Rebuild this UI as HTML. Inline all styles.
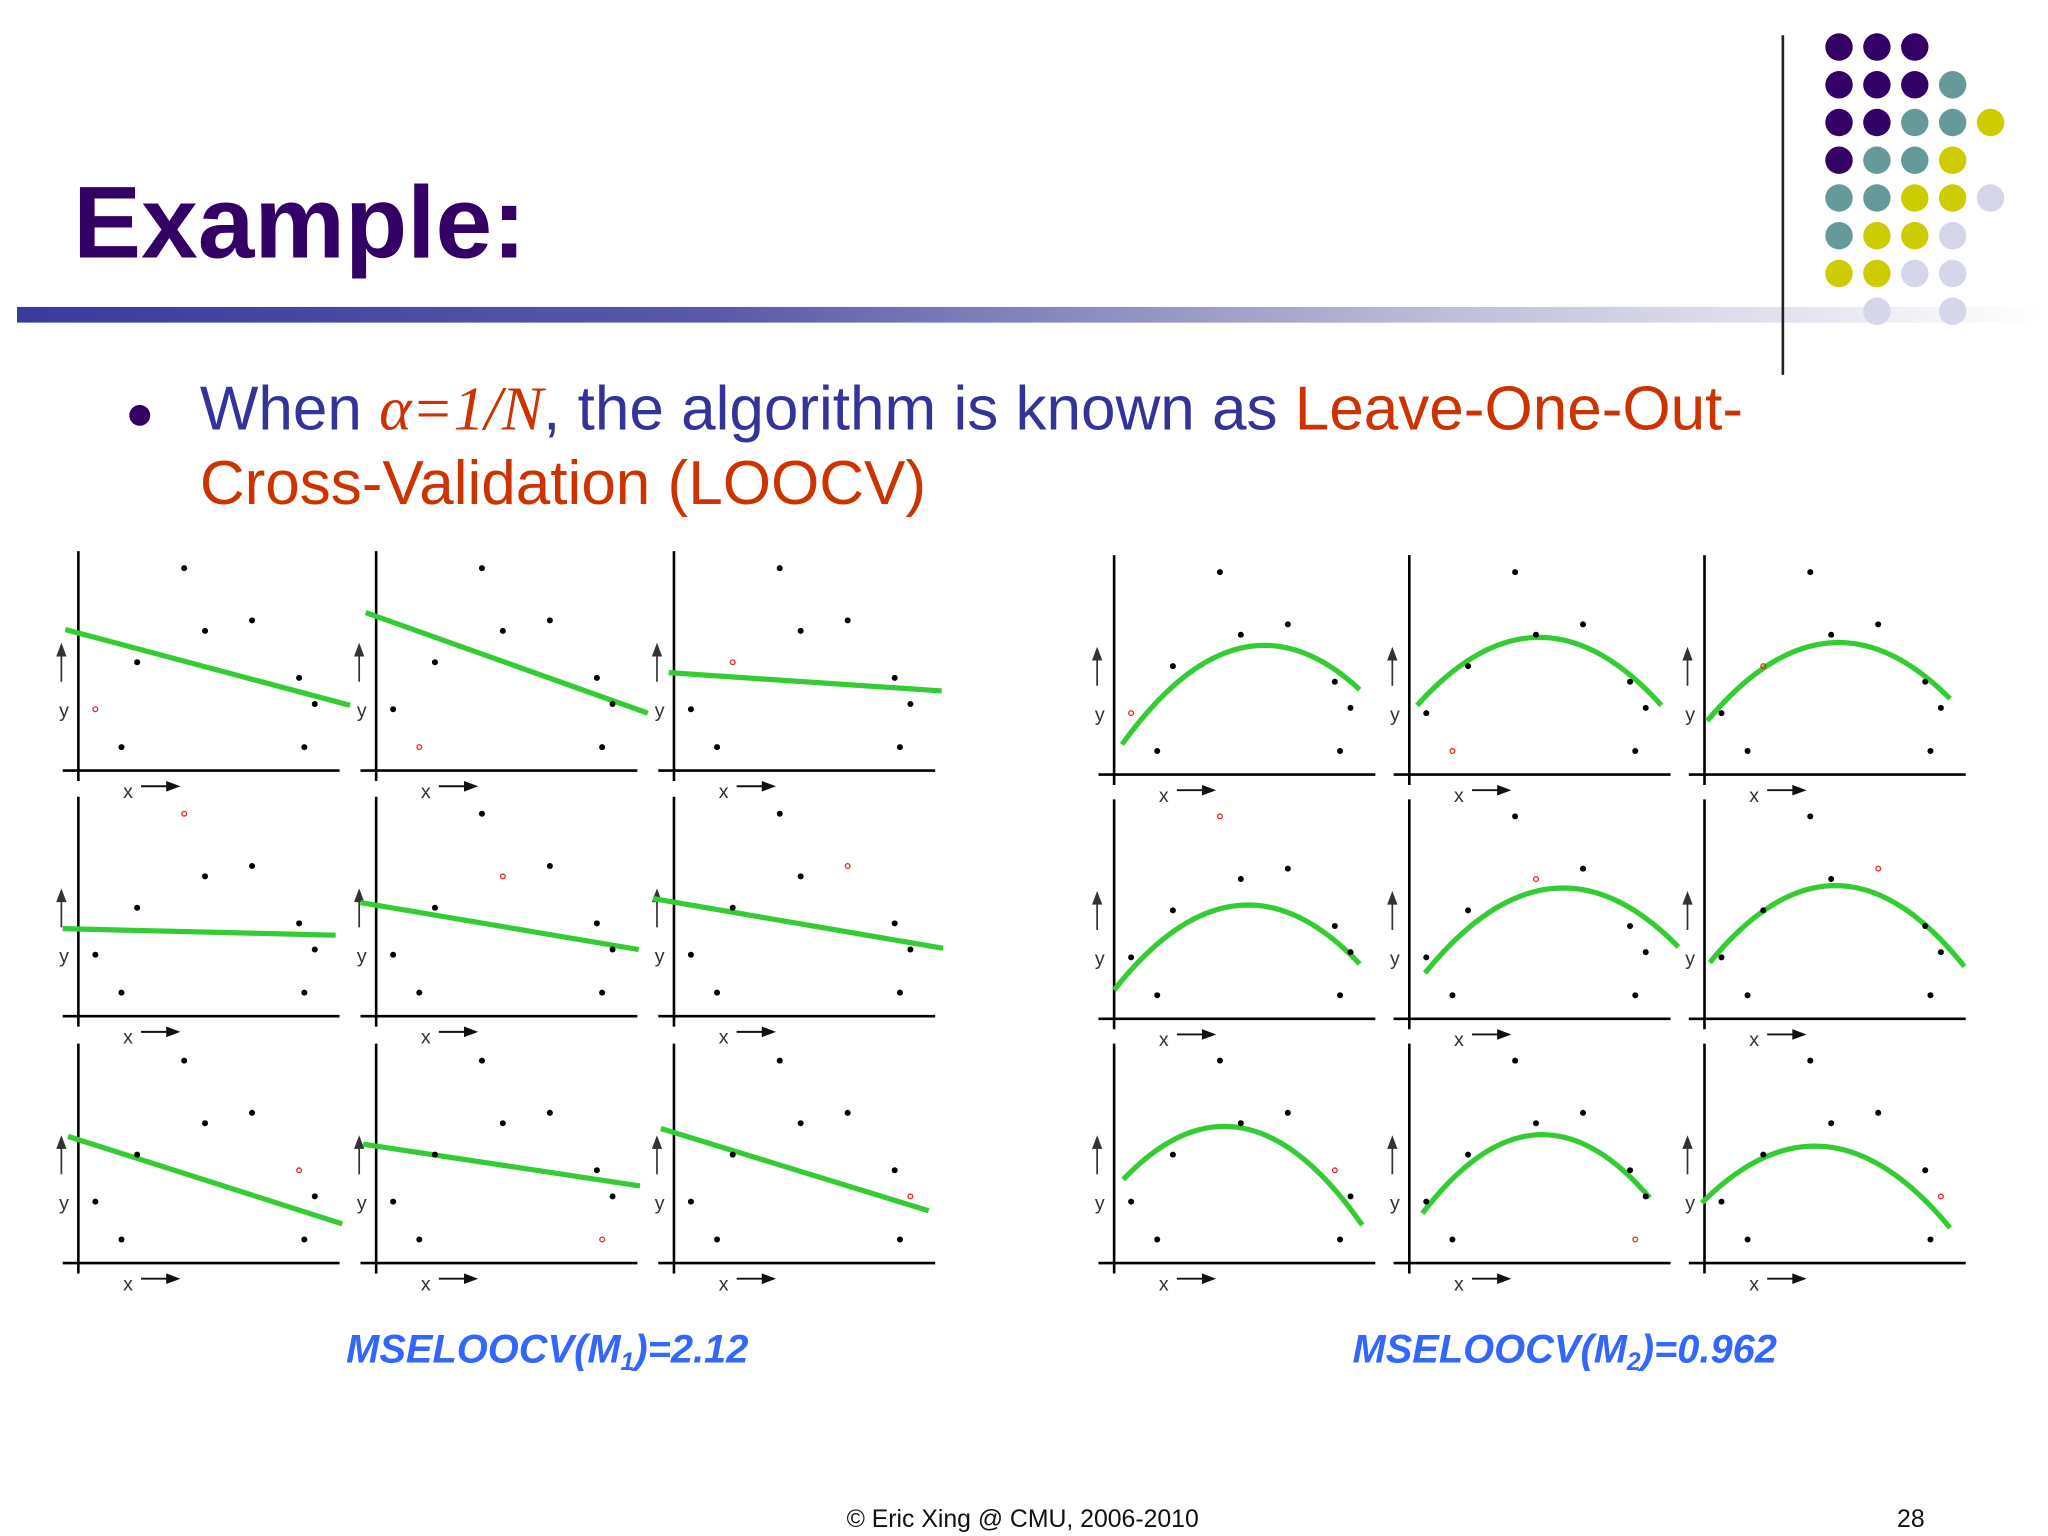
<!DOCTYPE html>
<html><head><meta charset="utf-8"><style>
html,body{margin:0;padding:0;background:#fff;}
svg{display:block;}
</style></head><body>
<svg id="slide" width="2048" height="1536" viewBox="0 0 1568 1176" xmlns="http://www.w3.org/2000/svg">
<defs>
<linearGradient id="bar" x1="0" x2="1" y1="0" y2="0">
<stop offset="0" stop-color="#3a3a9e"/><stop offset="0.35" stop-color="#5a5aa8"/><stop offset="0.7" stop-color="#bcbcd8"/><stop offset="1" stop-color="#ffffff"/>
</linearGradient>
</defs>
<rect width="1568" height="1176" fill="#fff"/>
<text x="56" y="197" font-family="Liberation Sans, sans-serif" font-weight="bold" font-size="78" fill="#330066">Example:</text>
<rect x="13" y="235" width="1550" height="12" fill="url(#bar)"/>
<line x1="1365" y1="27" x2="1365" y2="287" stroke="#222" stroke-width="2"/>
<g id="dots"></g>
<circle cx="107" cy="318" r="8" fill="#330066"/>
<text x="153" y="329" font-family="Liberation Sans, sans-serif" font-size="47.5" fill="#333399">When <tspan font-family="Liberation Serif, serif" font-style="italic" fill="#cc3300">α=1/N</tspan>, the algorithm is known as <tspan fill="#cc3300">Leave-One-Out-</tspan></text>
<text x="153" y="386" font-family="Liberation Sans, sans-serif" font-size="47.5" fill="#cc3300">Cross-Validation (LOOCV)</text>
<g id="panels"></g>
<text x="419" y="1043" text-anchor="middle" font-family="Liberation Sans, sans-serif" font-weight="bold" font-style="italic" font-size="30.5" fill="#3366ff">MSELOOCV(M<tspan font-size="19" dy="6">1</tspan><tspan dy="-6">)=2.12</tspan></text>
<text x="1198" y="1043" text-anchor="middle" font-family="Liberation Sans, sans-serif" font-weight="bold" font-style="italic" font-size="30.5" fill="#3366ff">MSELOOCV(M<tspan font-size="19" dy="6">2</tspan><tspan dy="-6">)=0.962</tspan></text>
<text x="783" y="1169" text-anchor="middle" font-family="Liberation Sans, sans-serif" font-size="19" fill="#111">© Eric Xing @ CMU, 2006-2010</text>
<text x="1463" y="1169" text-anchor="middle" font-family="Liberation Sans, sans-serif" font-size="19" fill="#111">28</text>
</svg>
<script>
// shared dataset (x, y in panel units)
const ptsX = [13, 33, 45, 81, 97, 133, 169, 173, 181];
const ptsY = [47, 18, 83, 155, 107, 115, 71, 18, 51];
// index left out in each panel (row-major)
const leftOut = [0, 1, 2, 3, 4, 5, 6, 7, 8];
// linear fits: start/end x and y
const linX0 = [-10, -8, -4, -12, -12, -16, -8, -10, -10];
const linY0 = [108, 121, 75, 67, 87, 90, 97, 91, 103];
const linX1 = [208, 208, 205, 197, 201, 206, 202, 202, 195];
const linY1 = [50, 44, 61, 62, 51, 52, 30, 59, 40];
// quadratic fits: start, peak, end
const qX0 = [6, 6, 2, 0, 12, 4, 7, 10, -2];
const qY0 = [23, 53, 41, 22, 35, 43, 64, 38, 46];
const qXp = [127, 98, 106, 107, 123, 88, 69, 108, 75];
const qYp = [98, 105, 101, 87, 100, 101, 103, 98, 89];
const qX1 = [188, 193, 188, 188, 206, 199, 190, 184, 188];
const qY1 = [65, 53, 58, 42, 55, 40, 29, 50, 27];

const NS = "http://www.w3.org/2000/svg";
function mk(tag, attrs, parent) {
  const e = document.createElementNS(NS, tag);
  for (const k in attrs) e.setAttribute(k, attrs[k]);
  parent.appendChild(e);
  return e;
}
const panels = document.getElementById('panels');
const leftAxisX = [60, 288, 516];
const rightAxisX = [853, 1079, 1305];
const leftBottom = [590, 778, 967];
const rightBottom = [593, 780, 967];

function drawPanel(ox, oy, i, kind) {
  const g = mk('g', {}, panels);
  
  
  const sx = v => ox + v;
  const sy = v => oy - v;
  const va = mk('line', {x1: ox, y1: oy - 168, x2: ox, y2: oy + 8, stroke: '#000', 'stroke-width': 2}, g);
  
  
  const ha = mk('line', {x1: ox - 12, y1: oy, x2: ox + 200, y2: oy, stroke: '#000', 'stroke-width': 2}, g);
  
  
  const yl = mk('text', {x: ox - 11, y: oy - 41, 'text-anchor': 'middle', 'font-family': 'Liberation Sans, sans-serif', 'font-size': 15, fill: '#333'}, g);
  yl.textContent = 'y';
  
  
  const ya = mk('path', {d: `M${ox-13},${oy-68} L${ox-13},${oy-92} M${ox-16},${oy-88} L${ox-13},${oy-96} L${ox-10},${oy-88}Z`, stroke: '#333', 'stroke-width': 1.3, fill: '#333'}, g);
  
  
  const xl = mk('text', {x: ox + 38, y: oy + 21, 'text-anchor': 'middle', 'font-family': 'Liberation Sans, sans-serif', 'font-size': 15, fill: '#333'}, g);
  xl.textContent = 'x';
  
  
  const xa = mk('path', {d: `M${ox+48},${oy+12} L${ox+70},${oy+12} M${ox+68},${oy+9} L${ox+76},${oy+12} L${ox+68},${oy+15}Z`, stroke: '#111', 'stroke-width': 1.5, fill: '#111'}, g);
  
  
  let d;
  if (kind === 'linear') {
    d = `M${sx(linX0[i])},${sy(linY0[i])} L${sx(linX1[i])},${sy(linY1[i])}`;
  } else {
    const xs = [qX0[i], qXp[i], qX1[i]], ys = [qY0[i], qYp[i], qY1[i]];
    const f = x => {
      let s = 0;
      for (let a = 0; a < 3; a++) {
        let t = ys[a];
        for (let b = 0; b < 3; b++) if (b !== a) t *= (x - xs[b]) / (xs[a] - xs[b]);
        s += t;
      }
      return s;
    };
    d = '';
    for (let k = 0; k <= 40; k++) {
      const x = xs[0] + (xs[2] - xs[0]) * k / 40;
      d += (k ? ' L' : 'M') + sx(x).toFixed(2) + ',' + sy(f(x)).toFixed(2);
    }
  }
  const fit = mk('path', {d: d, stroke: '#33cc33', 'stroke-width': 4, fill: 'none', 'stroke-linecap': 'butt'}, g);
  
  
  for (let p = 0; p < ptsX.length; p++) {
    let c;
    if (p === leftOut[i]) {
      c = mk('circle', {cx: sx(ptsX[p]), cy: sy(ptsY[p]), r: 1.8, fill: 'none', stroke: '#ee2222', 'stroke-width': 1}, g);
      
    } else {
      c = mk('circle', {cx: sx(ptsX[p]), cy: sy(ptsY[p]), r: 2.3, fill: '#000'}, g);
      
    }
    
  }
}
for (let r = 0; r < 3; r++) for (let c = 0; c < 3; c++) {
  drawPanel(leftAxisX[c], leftBottom[r], r * 3 + c, 'linear');
  drawPanel(rightAxisX[c], rightBottom[r], r * 3 + c, 'quadratic');
}
const dotRows = ['PPP', 'PPPT', 'PPTTY', 'PTTY', 'TTYYL', 'TYYL', 'YYLL', '.L.L'];
const dotCol = {P: '#330066', T: '#669999', Y: '#cccc00', L: '#d6d6ea'};
const dg = document.getElementById('dots');
dotRows.forEach((row, r) => {
  [...row].forEach((ch, c) => {
    if (ch === '.') return;
    const d = mk('circle', {cx: 1408 + c * 29, cy: 36 + r * 28.9, r: 10.5, fill: dotCol[ch]}, dg);
    
    
  });
});
</script>
</body></html>
